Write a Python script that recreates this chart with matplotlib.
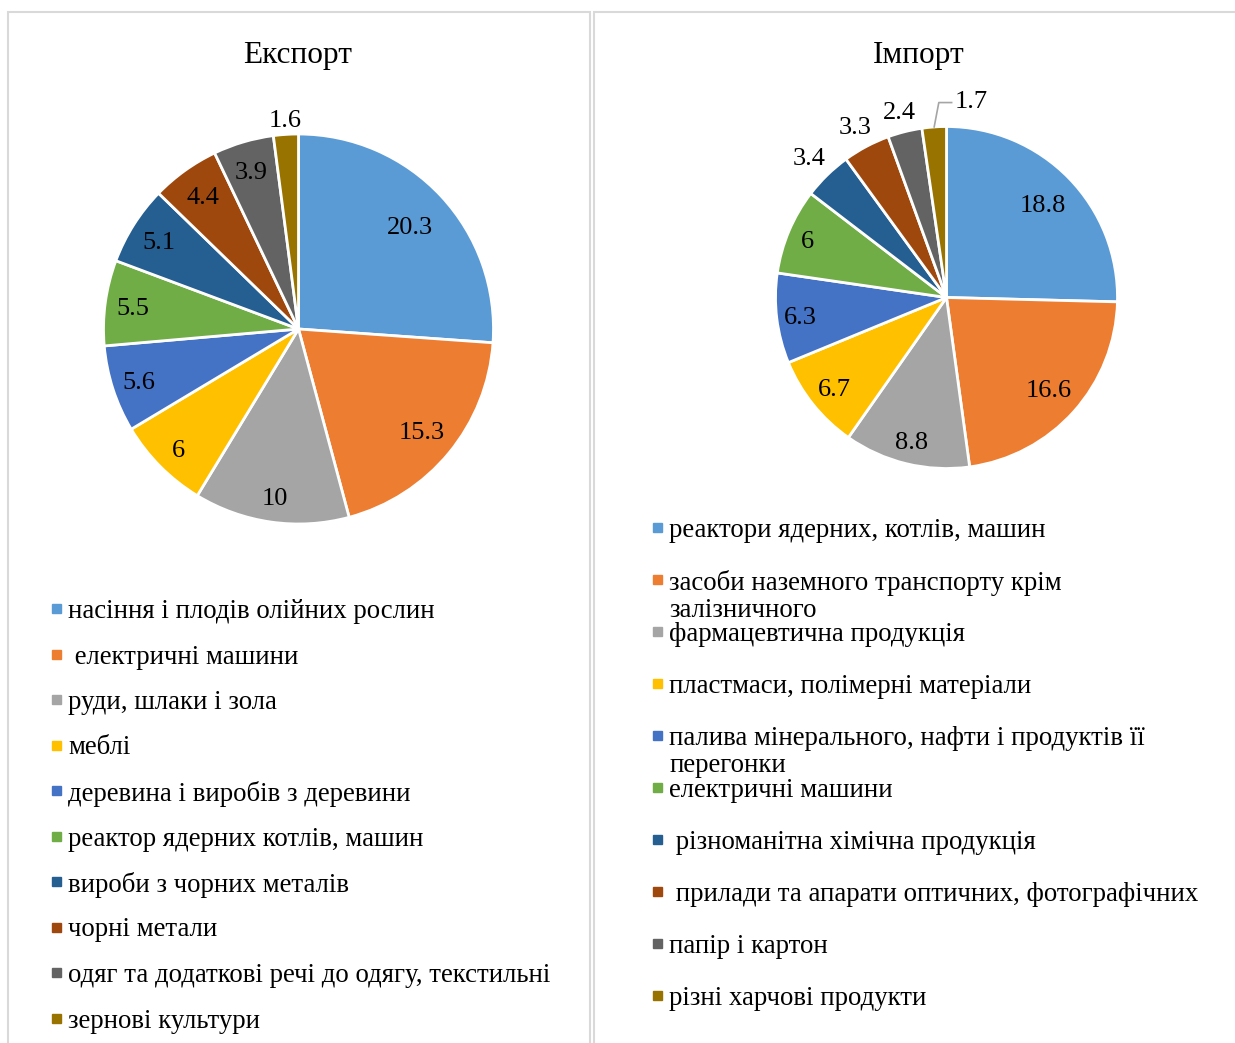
import numpy as np
import matplotlib.pyplot as plt
from matplotlib.patches import Rectangle

plt.rcParams['font.family'] = 'serif'
plt.rcParams['font.serif'] = ['Liberation Serif', 'DejaVu Serif']

colors = ['#5B9BD5', '#ED7D31', '#A5A5A5', '#FFC000', '#4472C4',
          '#70AD47', '#255E91', '#9E480E', '#636363', '#997300']

export_labels = ['насіння і плодів олійних рослин', ' електричні машини',
                 'руди, шлаки і зола', 'меблі', 'деревина і виробів з деревини',
                 'реактор ядерних котлів, машин', 'вироби з чорних металів',
                 'чорні метали', 'одяг та додаткові речі до одягу, текстильні',
                 'зернові культури']
export_values = [20.3, 15.3, 10, 6, 5.6, 5.5, 5.1, 4.4, 3.9, 1.6]

import_labels = ['реактори ядерних, котлів, машин',
                 'засоби наземного транспорту крім\nзалізничного',
                 'фармацевтична продукція', 'пластмаси, полімерні матеріали',
                 'палива мінерального, нафти і продуктів її\nперегонки',
                 'електричні машини', ' різноманітна хімічна продукція',
                 ' прилади та апарати оптичних, фотографічних',
                 'папір і картон', 'різні харчові продукти']
import_values = [18.8, 16.6, 8.8, 6.7, 6.3, 6, 3.4, 3.3, 2.4, 1.7]

W, H = 1235, 1043
fig = plt.figure(figsize=(W / 100, H / 100), dpi=100)


def px_box(cx, cy, r):
    # прямокутник осей у частках фігури за центром і радіусом у пікселях
    return [(cx - r) / W, 1 - (cy + r) / H, 2 * r / W, 2 * r / H]


def draw_pie(ax, values, dists):
    wedges, _ = ax.pie(values, colors=colors, startangle=90, counterclock=False,
                       radius=1, wedgeprops=dict(edgecolor='white', linewidth=2))
    for w, v, d in zip(wedges, values, dists):
        ang = np.deg2rad((w.theta1 + w.theta2) / 2)
        ax.text(d * np.cos(ang), d * np.sin(ang), '{:g}'.format(v),
                ha='center', va='center_baseline', fontsize=19, color='#000000')
    ax.set_xlim(-1, 1)
    ax.set_ylim(-1, 1)
    ax.axis('off')
    return wedges


def draw_legend(labels, x0, y0, step):
    for i, lab in enumerate(labels):
        y = y0 + i * step
        fig.patches.append(Rectangle(((x0 - 16) / W, 1 - (y + 4) / H), 9 / W, 9 / H,
                                     transform=fig.transFigure, color=colors[i]))
        fig.text(x0 / W, 1 - (y - 10) / H, lab, fontsize=19.3, va='top', ha='left',
                 linespacing=1.1)


# рамки панелей
fig.patches.append(Rectangle((8 / W, -0.01), 582 / W, 1 - 12 / H + 0.01,
                             transform=fig.transFigure, fill=False,
                             edgecolor='#D9D9D9', linewidth=1.5))
fig.patches.append(Rectangle((594 / W, -0.01), 0.6, 1 - 12 / H + 0.01,
                             transform=fig.transFigure, fill=False,
                             edgecolor='#D9D9D9', linewidth=1.5))

# експорт
ax1 = fig.add_axes(px_box(298.5, 329, 195))
draw_pie(ax1, export_values, [0.78, 0.82, 0.87, 0.87, 0.86, 0.86, 0.85, 0.84, 0.85, 1.08])
fig.text(298 / W, 1 - 55 / H, 'Експорт', fontsize=22.5, ha='center', va='center')
draw_legend(export_labels, 68, 609, 45.5)

# імпорт
ax2 = fig.add_axes(px_box(946.5, 297.5, 171))
wedges = draw_pie(ax2, import_values,
                  [0.79, 0.8, 0.86, 0.84, 0.86, 0.88, 1.15, 1.14, 1.13, 0.0])
# підпис 1.7 з виноскою
last = ax2.texts[-1]
last.set_position((0.05, 1.16))
last.set_ha('left')
w = wedges[-1]
a = np.deg2rad((w.theta1 + w.theta2) / 2)
ax2.plot([np.cos(a) * 1.0, -0.045, 0.03], [np.sin(a) * 1.0, 1.14, 1.14],
         color='#A5A5A5', linewidth=1.2, clip_on=False)
fig.text(919 / W, 1 - 55 / H, 'Імпорт', fontsize=22.5, ha='center', va='center')
draw_legend(import_labels, 669, 528, 52)

plt.savefig('out.png', dpi=100)
